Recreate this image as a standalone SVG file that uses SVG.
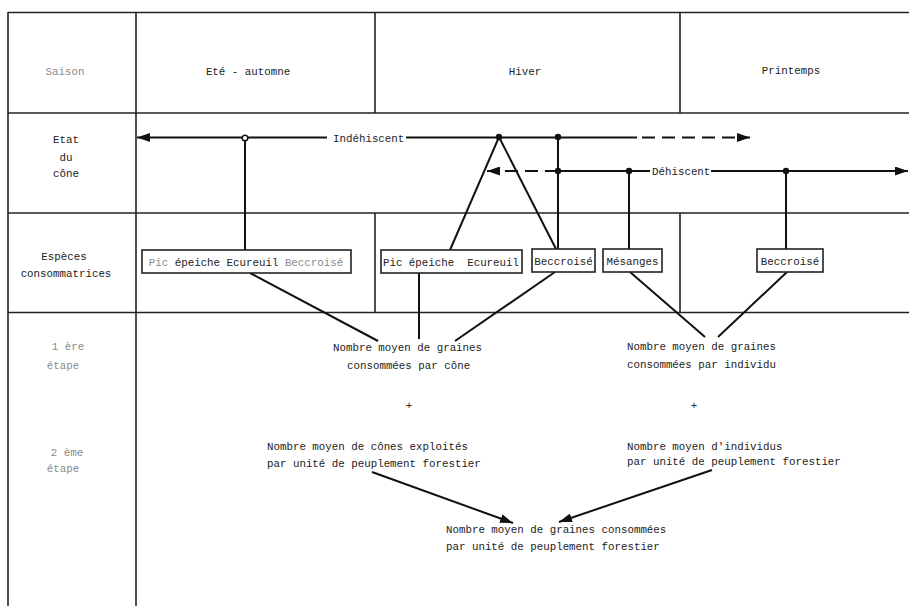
<svg xmlns="http://www.w3.org/2000/svg" width="909" height="606" viewBox="0 0 909 606">
<defs>
<style>
text{font-family:"Liberation Mono","DejaVu Sans Mono",monospace;font-size:10.8px;fill:#222}
.g{fill:#8a8a8a}
.m{text-anchor:middle}
.grid{stroke:#222;stroke-width:1.6;fill:none}
.ln{stroke:#111;stroke-width:2;fill:none}
.dash{stroke:#111;stroke-width:2;fill:none;stroke-dasharray:13 7}
.box{fill:#fff;stroke:#222;stroke-width:1.6}
.dot{fill:#111}
</style>
<marker id="ah" markerUnits="userSpaceOnUse" markerWidth="14" markerHeight="9" refX="13" refY="4.5" orient="auto">
<path d="M0,0 L13,4.5 L0,9 z" fill="#111" stroke="none"/>
</marker>
</defs>
<rect width="909" height="606" fill="#fff"/>
<g id="grid" class="grid">
<line x1="8" y1="12.5" x2="909" y2="12.5"/>
<line x1="8" y1="113" x2="909" y2="113"/>
<line x1="8" y1="213" x2="909" y2="213"/>
<line x1="8" y1="312.5" x2="909" y2="312.5"/>
<line x1="8" y1="12" x2="8" y2="606"/>
<line x1="136" y1="12" x2="136" y2="606"/>
<line x1="375" y1="12" x2="375" y2="113"/>
<line x1="375" y1="213" x2="375" y2="312"/>
<line x1="680" y1="12" x2="680" y2="113"/>
<line x1="680" y1="213" x2="680" y2="312"/>
</g>
<g id="saison-label"><text class="g m" x="65" y="75">Saison</text></g>
<g id="ete"><text class="m" x="248" y="75">Eté - automne</text></g>
<g id="hiver"><text class="m" x="525" y="75">Hiver</text></g>
<g id="printemps"><text class="m" x="791" y="74">Printemps</text></g>
<g id="etat-label"><text class="m" x="66" y="143">Etat</text><text class="m" x="66" y="161">du</text><text class="m" x="66" y="177">cône</text></g>
<g id="especes-label"><text class="m" x="64" y="260">Espèces</text><text class="m" x="66" y="277">consommatrices</text></g>
<g id="etape1-label"><text class="g m" x="68" y="350">1 ère</text><text class="g m" x="63" y="369">étape</text></g>
<g id="etape2-label"><text class="g m" x="67" y="456">2 ème</text><text class="g m" x="63" y="472">étape</text></g>
<g id="connectors">
<line class="ln" x1="327" y1="137.5" x2="137" y2="137.5" marker-end="url(#ah)"/>
<line class="ln" x1="406" y1="137.5" x2="637" y2="137.5"/>
<line class="dash" x1="642" y1="137.5" x2="750" y2="137.5" marker-end="url(#ah)"/>
<line class="dash" x1="558" y1="171" x2="487" y2="171" marker-end="url(#ah)"/>
<line class="ln" x1="558" y1="171" x2="650" y2="171"/>
<line class="ln" x1="711" y1="171" x2="908" y2="171" marker-end="url(#ah)"/>
<line class="ln" x1="245" y1="138" x2="245" y2="250"/>
<line class="ln" x1="558" y1="137" x2="558" y2="249"/>
<line class="ln" x1="629" y1="171" x2="629" y2="249"/>
<line class="ln" x1="786" y1="171" x2="786" y2="249"/>
<polyline class="ln" points="450,250 499,137 556,249"/>
<line class="ln" x1="250" y1="273" x2="378" y2="341"/>
<line class="ln" x1="419" y1="273" x2="419" y2="339"/>
<line class="ln" x1="555" y1="272" x2="455" y2="341"/>
<line class="ln" x1="630" y1="272" x2="705" y2="337"/>
<line class="ln" x1="787" y1="272" x2="718" y2="337"/>
<line class="ln" x1="372" y1="472" x2="513" y2="523" marker-end="url(#ah)"/>
<line class="ln" x1="712" y1="470" x2="559" y2="522" marker-end="url(#ah)"/>
<circle cx="245" cy="138" r="2.8" fill="#fff" stroke="#111" stroke-width="1.5"/>
<circle class="dot" cx="499" cy="137" r="3.2"/>
<circle class="dot" cx="558" cy="137" r="3.2"/>
<circle class="dot" cx="558" cy="171" r="3.2"/>
<circle class="dot" cx="629" cy="171" r="3.2"/>
<circle class="dot" cx="786" cy="171" r="3.2"/>
</g>
<g id="indehiscent"><text x="333" y="141.5">Indéhiscent</text></g>
<g id="dehiscent"><text x="652" y="174.5">Déhiscent</text></g>
<g id="box-ete"><rect class="box" x="142" y="250" width="209" height="23"/><text class="m" x="246" y="266"><tspan class="g">Pic</tspan> épeiche Ecureuil <tspan class="g">Beccroisé</tspan></text></g>
<g id="box-hiver-pic"><rect class="box" x="381" y="250" width="141" height="23"/><text class="m" x="451" y="266" xml:space="preserve">Pic épeiche  Ecureuil</text></g>
<g id="box-hiver-bec"><rect class="box" x="532" y="249" width="63" height="23"/><text class="m" x="563.5" y="265">Beccroisé</text></g>
<g id="box-mesanges"><rect class="box" x="603" y="249" width="59" height="23"/><text class="m" x="632.5" y="265">Mésanges</text></g>
<g id="box-print-bec"><rect class="box" x="757" y="249" width="66" height="23"/><text class="m" x="790" y="265">Beccroisé</text></g>
<g id="graines-cone"><text x="333" y="351">Nombre moyen de graines</text><text x="347" y="369">consommées par cône</text></g>
<g id="plus1"><text class="m" x="409" y="409">+</text></g>
<g id="cones"><text x="267" y="450">Nombre moyen de cônes exploités</text><text x="267" y="467">par unité de peuplement forestier</text></g>
<g id="graines-ind"><text x="627" y="350">Nombre moyen de graines</text><text x="627" y="368">consommées par individu</text></g>
<g id="plus2"><text class="m" x="694" y="409">+</text></g>
<g id="individus"><text x="627" y="450">Nombre moyen d'individus</text><text x="627" y="465">par unité de peuplement forestier</text></g>
<g id="total"><text x="446" y="533">Nombre moyen de graines consommées</text><text x="446" y="550">par unité de peuplement forestier</text></g>
</svg>
